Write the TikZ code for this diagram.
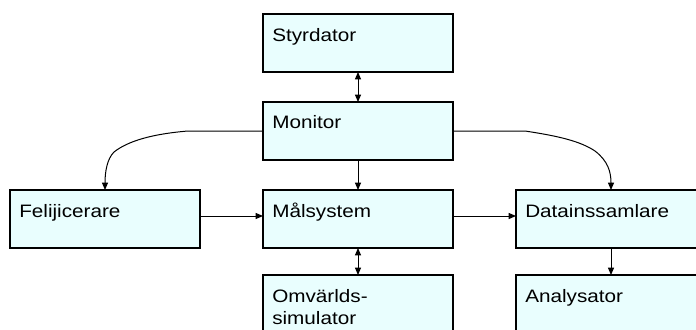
\documentclass[tikz,border=0pt]{standalone}
\usepackage{fontspec}
\setmainfont{Liberation Sans}[FakeStretch=1.15]
\usetikzlibrary{arrows.meta,calc}
\definecolor{boxfill}{RGB}{233,254,254}
\tikzset{
  blk/.style={draw=black, line width=0.8pt, fill=boxfill, minimum width=190*0.75pt, minimum height=58*0.75pt, inner sep=0pt, outer sep=0pt},
  lbl/.style={anchor=base west, inner sep=0pt, align=left, font=\fontsize{13.5pt}{16.5pt}\selectfont},
  con/.style={line width=0.75pt, -{Triangle[length=5.5pt,width=4.5pt]}},
  dcon/.style={line width=0.75pt, {Triangle[length=5.5pt,width=4.5pt]}-{Triangle[length=5.5pt,width=4.5pt]}}
}
\begin{document}
\begin{tikzpicture}[x=0.75pt,y=-0.75pt]
\useasboundingbox (0,0) rectangle (696,329);
\clip (0,0) rectangle (696,329);
\node[blk] (sty) at (358,43) {};
\node[blk] (mon) at (358,131) {};
\node[blk] (fel) at (105,219) {};
\node[blk] (mal) at (358,219) {};
\node[blk] (dat) at (611,219) {};
\node[blk] (omv) at (358,304) {};
\node[blk] (ana) at (611,304) {};
\node[lbl] (styt) at ($(sty.north west)+(9,27)$) {Styrdator};
\node[lbl] (mont) at ($(mon.north west)+(9,26)$) {Monitor};
\node[lbl] (felt) at ($(fel.north west)+(9,27)$) {Felijicerare};
\node[lbl] (malt) at ($(mal.north west)+(9,27)$) {Målsystem};
\node[lbl] (datt) at ($(dat.north west)+(9,27)$) {Datainssamlare};
\node[lbl] (omvt) at ($(omv.north west)+(9,49)$) {Omvärlds-\\simulator};
\node[lbl] (anat) at ($(ana.north west)+(9,27)$) {Analysator};
\draw[dcon] (sty) -- (mon);
\draw[con] (mon) -- (mal);
\draw[dcon] (mal) -- (omv);
\draw[con] (dat) -- (ana);
\draw[con] ([yshift=2.25pt]fel.east) -- ([yshift=2.25pt]mal.west);
\draw[con] ([yshift=2.25pt]mal.east) -- ([yshift=2.25pt]dat.west);
\draw[con] (mon.west) -- (188,131) .. controls (152,134) and (128,141) .. (114,152)
  .. controls (107,159) and (105,172) .. (fel.north);
\draw[con] (mon.east) -- (525,131) .. controls (558,136) and (580,141) .. (595,151)
  .. controls (608,161) and (611,172) .. (dat.north);
\end{tikzpicture}
\end{document}
